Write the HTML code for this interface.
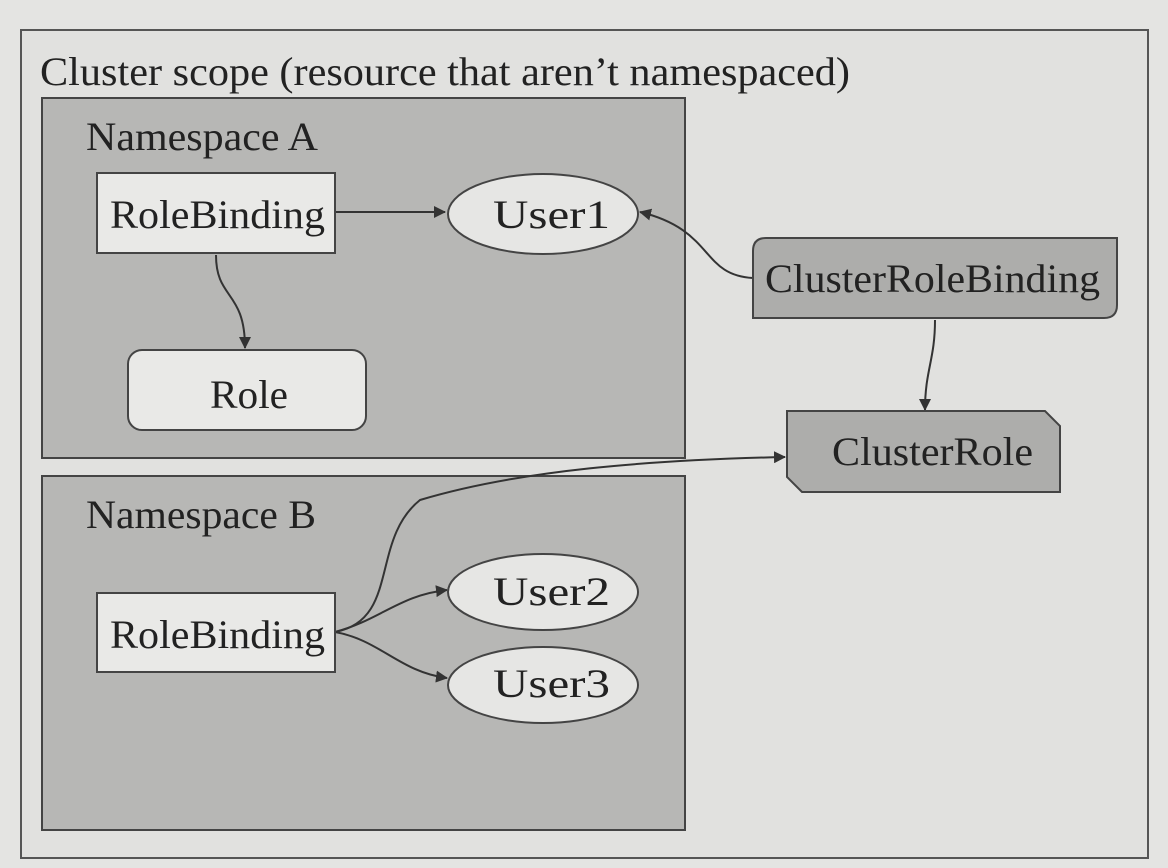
<!DOCTYPE html>
<html><head><meta charset="utf-8"><style>
html,body{margin:0;padding:0;background:#e4e4e2;}
svg{display:block;}
text{font-family:"Liberation Serif",serif;fill:#222;}
</style></head><body>
<svg width="1168" height="868" viewBox="0 0 1168 868">
<defs>
<marker id="ah" markerWidth="12" markerHeight="12" refX="11" refY="6" orient="auto" markerUnits="userSpaceOnUse">
<path d="M0,0 L12,6 L0,12 z" fill="#333"/></marker>
</defs>
<rect x="0" y="0" width="1168" height="868" fill="#e4e4e2"/>
<rect x="21" y="30" width="1127" height="828" fill="#e1e1df" stroke="#555" stroke-width="2"/>
<text x="40" y="85" font-size="40" textLength="810" lengthAdjust="spacingAndGlyphs">Cluster scope (resource that aren’t namespaced)</text>

<rect x="42" y="98" width="643" height="360" fill="#b7b7b5" stroke="#444" stroke-width="2"/>
<text x="86" y="150" font-size="40" textLength="232" lengthAdjust="spacingAndGlyphs">Namespace A</text>
<rect x="42" y="476" width="643" height="354" fill="#b7b7b5" stroke="#444" stroke-width="2"/>
<text x="86" y="528" font-size="40" textLength="230" lengthAdjust="spacingAndGlyphs">Namespace B</text>

<g fill="none" stroke="#333" stroke-width="2">
<path d="M335,212 L445,212" marker-end="url(#ah)"/>
<path d="M216,255 C216,300 245,290 245,348" marker-end="url(#ah)"/>
<path d="M753,278 C700,275 715,230 640,212" marker-end="url(#ah)"/>
<path d="M935,320 C935,360 925,370 925,410" marker-end="url(#ah)"/>
<path d="M335,632 C400,620 370,540 420,500 C520,470 650,460 785,457" marker-end="url(#ah)"/>
<path d="M335,632 C380,620 400,595 447,590" marker-end="url(#ah)"/>
<path d="M335,632 C380,640 400,672 447,678" marker-end="url(#ah)"/>
</g>

<rect x="97" y="173" width="238" height="80" fill="#e9e9e7" stroke="#444" stroke-width="2"/>
<text x="110" y="228" font-size="40" textLength="215" lengthAdjust="spacingAndGlyphs">RoleBinding</text>
<ellipse cx="543" cy="214" rx="95" ry="40" fill="#e6e6e4" stroke="#444" stroke-width="2"/>
<text x="493" y="228" font-size="40" textLength="117" lengthAdjust="spacingAndGlyphs">User1</text>
<rect x="128" y="350" width="238" height="80" rx="14" fill="#e9e9e7" stroke="#444" stroke-width="2"/>
<text x="210" y="408" font-size="40" textLength="78" lengthAdjust="spacingAndGlyphs">Role</text>

<path d="M766,238 L1117,238 L1117,305 Q1117,318 1104,318 L753,318 L753,251 Q753,238 766,238 z" fill="#adadab" stroke="#444" stroke-width="2"/>
<text x="765" y="292" font-size="40" textLength="335" lengthAdjust="spacingAndGlyphs">ClusterRoleBinding</text>
<path d="M787,411 L1045,411 L1060,426 L1060,492 L802,492 L787,477 z" fill="#adadab" stroke="#444" stroke-width="2"/>
<text x="832" y="465" font-size="40" textLength="201" lengthAdjust="spacingAndGlyphs">ClusterRole</text>

<rect x="97" y="593" width="238" height="79" fill="#e9e9e7" stroke="#444" stroke-width="2"/>
<text x="110" y="648" font-size="40" textLength="215" lengthAdjust="spacingAndGlyphs">RoleBinding</text>
<ellipse cx="543" cy="592" rx="95" ry="38" fill="#e6e6e4" stroke="#444" stroke-width="2"/>
<text x="493" y="605" font-size="40" textLength="117" lengthAdjust="spacingAndGlyphs">User2</text>
<ellipse cx="543" cy="685" rx="95" ry="38" fill="#e6e6e4" stroke="#444" stroke-width="2"/>
<text x="493" y="697" font-size="40" textLength="117" lengthAdjust="spacingAndGlyphs">User3</text>
</svg>
</body></html>
